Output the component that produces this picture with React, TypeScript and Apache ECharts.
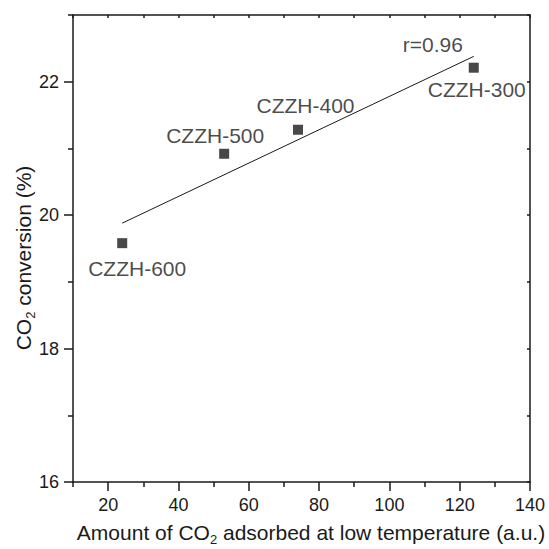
import React, { useEffect, useRef } from "react";
import * as echarts from "echarts";

const sampleNames = ["CZZH-600", "CZZH-500", "CZZH-400", "CZZH-300"];
const co2Adsorbed = [24, 53, 74, 124];
const co2Conversion = [19.58, 20.92, 21.28, 22.21];
const fitX = [24, 124];
const fitY = [19.88, 22.38];
const correlationText = "r=0.96";
const xMajorTicks = [20, 40, 60, 80, 100, 120, 140];
const xMinorTicks = [10, 30, 50, 70, 90, 110, 130];
const yMajorTicks = [16, 18, 20, 22];
const yMinorTicks = [17, 19, 21, 23];
const xAll = [10, 20, 30, 40, 50, 60, 70, 80, 90, 100, 110, 120, 130, 140];
const yAll = [16, 17, 18, 19, 20, 21, 22, 23];

const labelOffsets: [number, number][] = [
  [15, 25],
  [-9, -18],
  [7.5, -24],
  [3, 22],
];

const FONT = "Liberation Sans, Arial, sans-serif";
const INK = "#1a1a1a";

export default function App() {
  const ref = useRef<HTMLDivElement>(null);
  useEffect(() => {
    if (!ref.current) return;
    const chart = echarts.init(ref.current, null, { renderer: "svg" });
    const lineStyle = { color: INK, width: 1.5 };
    const baseX = { type: "value", min: 10, max: 140, gridIndex: 0, splitLine: { show: false } };
    const baseY = { type: "value", min: 16, max: 23, gridIndex: 0, splitLine: { show: false } };
    const rich = {
      n: { fontSize: 21, fontFamily: FONT, fill: INK, lineHeight: 24, verticalAlign: "top" },
      s: { fontSize: 13, fontFamily: FONT, fill: INK, verticalAlign: "bottom", lineHeight: 13 },
    };
    chart.setOption({
      animation: false,
      backgroundColor: "#fff",
      grid: { left: 73, right: 19, top: 15, bottom: 67, containLabel: false },
      xAxis: [
        {
          ...baseX,
          position: "bottom",
          axisLine: { show: true, lineStyle },
          axisTick: { show: true, customValues: xMajorTicks, length: 9, inside: false, lineStyle },
          axisLabel: { show: true, customValues: xMajorTicks, margin: 14, fontSize: 18, color: INK, fontFamily: FONT },
        },
        {
          ...baseX,
          position: "bottom",
          axisLine: { show: false },
          axisTick: { show: true, customValues: xMinorTicks, length: 5, inside: false, lineStyle },
          axisLabel: { show: false },
        },
        {
          ...baseX,
          position: "top",
          axisLine: { show: true, lineStyle },
          axisTick: { show: true, customValues: xAll, length: 3, inside: true, lineStyle },
          axisLabel: { show: false },
        },
      ],
      yAxis: [
        {
          ...baseY,
          position: "left",
          axisLine: { show: true, lineStyle },
          axisTick: { show: true, customValues: yMajorTicks, length: 9, inside: false, lineStyle },
          axisLabel: { show: true, customValues: yMajorTicks, margin: 14, fontSize: 18, color: INK, fontFamily: FONT },
        },
        {
          ...baseY,
          position: "left",
          axisLine: { show: false },
          axisTick: { show: true, customValues: yMinorTicks, length: 5, inside: false, lineStyle },
          axisLabel: { show: false },
        },
        {
          ...baseY,
          position: "right",
          axisLine: { show: true, lineStyle },
          axisTick: { show: true, customValues: yAll, length: 3, inside: true, lineStyle },
          axisLabel: { show: false },
        },
      ],
      series: [
        {
          type: "line",
          xAxisIndex: 0,
          yAxisIndex: 0,
          data: fitX.map((x, i) => [x, fitY[i]]),
          showSymbol: false,
          symbol: "none",
          lineStyle: { color: INK, width: 1 },
          silent: true,
        },
        {
          type: "scatter",
          xAxisIndex: 0,
          yAxisIndex: 0,
          symbol: "rect",
          symbolSize: 10,
          itemStyle: { color: INK },
          data: sampleNames.map((n, i) => ({
            name: n,
            value: [co2Adsorbed[i], co2Conversion[i]],
            label: { offset: labelOffsets[i] },
          })),
          label: {
            show: true,
            position: "inside",
            formatter: (p: any) => p.name,
            fontSize: 21,
            color: INK,
            fontFamily: FONT,
          },
        },
        {
          type: "scatter",
          xAxisIndex: 0,
          yAxisIndex: 0,
          symbolSize: 1,
          itemStyle: { color: "rgba(0,0,0,0)" },
          data: [{ name: correlationText, value: [fitX[1], fitY[1]] }],
          label: {
            show: true,
            position: "inside",
            offset: [-41, -12],
            formatter: (p: any) => p.name,
            fontSize: 21,
            color: INK,
            fontFamily: FONT,
          },
        },
      ],
      graphic: [
        {
          type: "text",
          x: 311,
          y: 534,
          style: {
            text: "{n|Amount of CO}{s|2}{n| adsorbed at low temperature (a.u.)}",
            align: "center",
            verticalAlign: "middle",
            fill: INK,
            font: `21px ${FONT}`,
            rich,
          },
        },
        {
          type: "text",
          x: 25,
          y: 258,
          rotation: Math.PI / 2,
          style: {
            text: "{n|CO}{s|2}{n| conversion (%)}",
            align: "center",
            verticalAlign: "middle",
            fill: INK,
            font: `21px ${FONT}`,
            rich,
          },
        },
      ],
    });
    return () => chart.dispose();
  }, []);
  return (
    <div
      ref={ref}
      style={{ position: "fixed", left: 0, top: 0, width: 549, height: 549, background: "#fff" }}
    />
  );
}
